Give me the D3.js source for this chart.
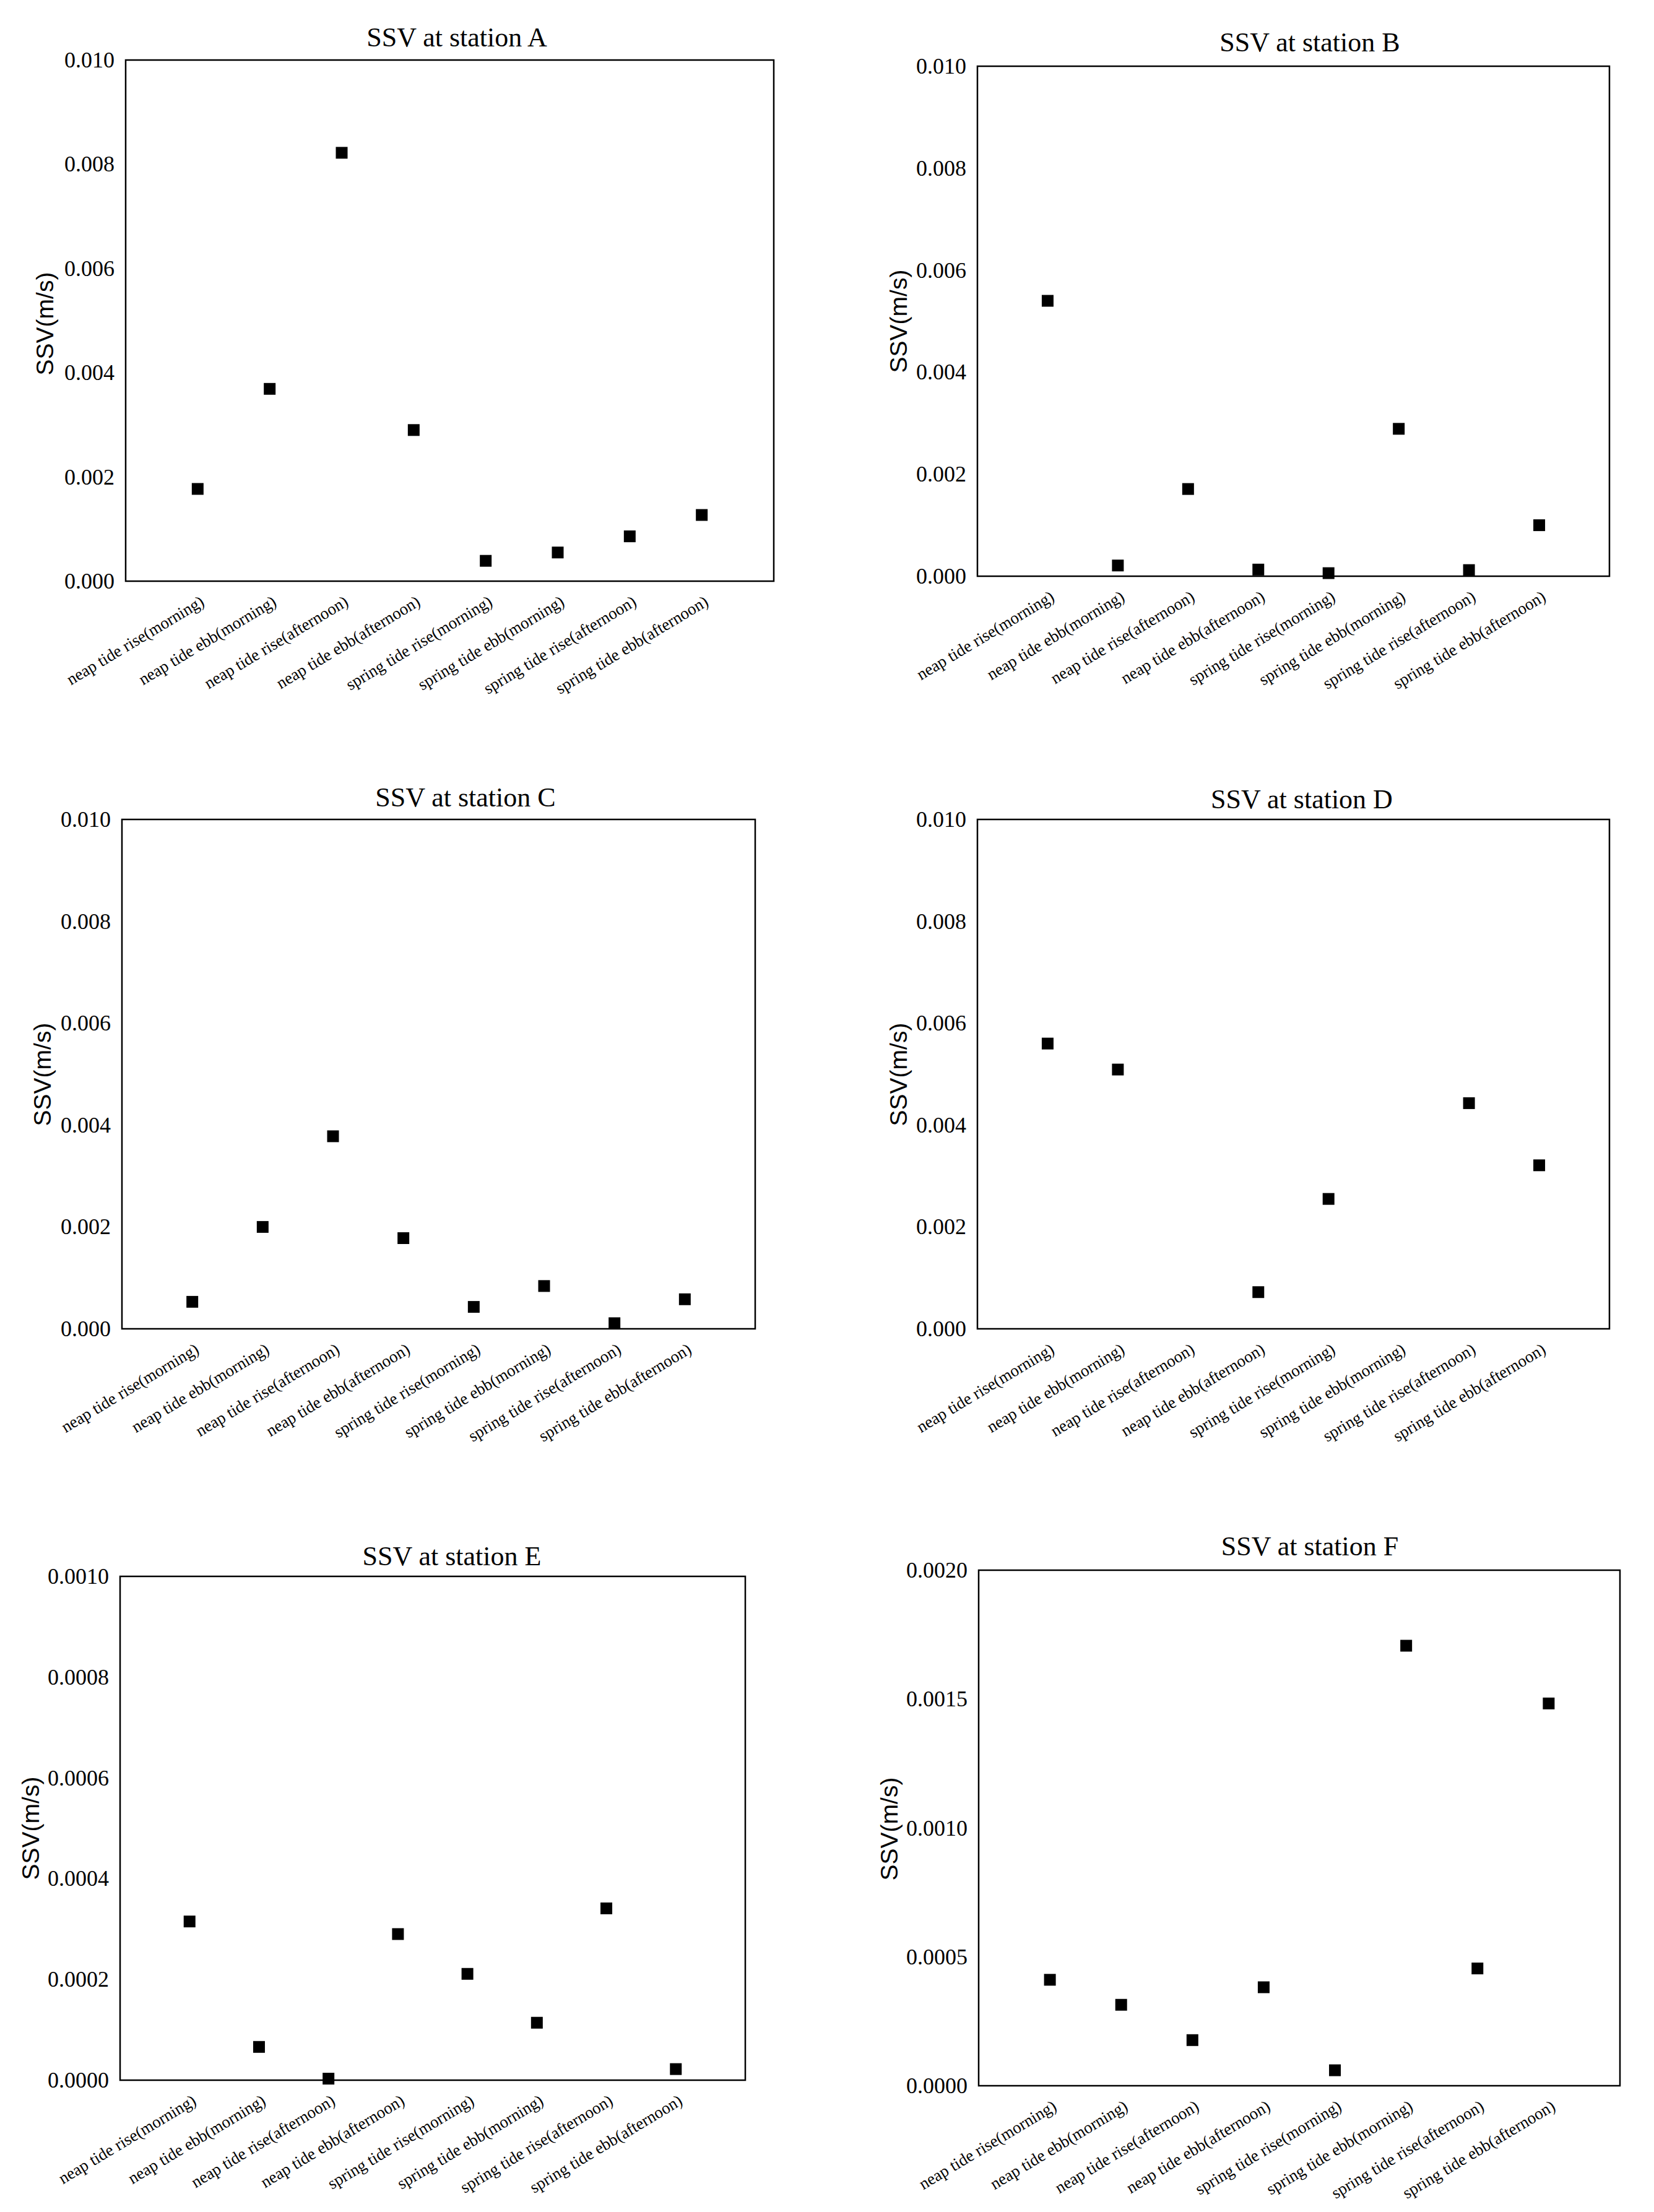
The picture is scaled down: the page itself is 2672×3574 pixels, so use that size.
<!DOCTYPE html>
<html lang="en">
    <head>
        <meta charset="utf-8" />
        <title>SSV at stations A-F</title>
        <script src="https://d3js.org/d3.v7.min.js"></script>
        <style>
            html, body { margin:0; padding:0; background-color: #ffffff; }
            svg { display:block; }
            .serif text, text.serif { font-family: "Liberation Serif", "Times New Roman", serif; }
            text.sans { font-family: "Liberation Sans", Arial, sans-serif; }
        </style>
    </head>
    <body>
        <svg id="svg" width="2672" height="3574"></svg>
        <script>

            // categories on the x axis (same for every station)
            const categories = [
                "neap tide rise(morning)",
                "neap tide ebb(morning)",
                "neap tide rise(afternoon)",
                "neap tide ebb(afternoon)",
                "spring tide rise(morning)",
                "spring tide ebb(morning)",
                "spring tide rise(afternoon)",
                "spring tide ebb(afternoon)"
            ];

            // SSV (m/s), null = no point drawn
            const stationA = [0.00177, 0.00369, 0.00822, 0.00290, 0.00039, 0.00055, 0.00086, 0.00127];
            const stationB = [0.00540, 0.00021, 0.00171, 0.00013, 0.00006, 0.00289, 0.00012, 0.00100];
            const stationC = [0.00053, 0.00200, 0.00378, 0.00178, 0.00043, 0.00084, 0.00011, 0.00058];
            const stationD = [0.00560, 0.00509, null, 0.00072, 0.00255, null, 0.00443, 0.00321];
            const stationE = [0.000315, 0.000066, 0.000003, 0.000290, 0.000211, 0.000114, 0.000341, 0.000022];
            const stationF = [0.000411, 0.000314, 0.000177, 0.000382, 0.000060, 0.001707, 0.000455, 0.001483];

            // y tick labels
            const ticksAD = [0, 0.002, 0.004, 0.006, 0.008, 0.010];
            const ticksE = [0, 0.0002, 0.0004, 0.0006, 0.0008, 0.0010];
            const ticksF = [0, 0.0005, 0.0010, 0.0015, 0.0020];

            const titles = ["SSV at station A", "SSV at station B", "SSV at station C",
                            "SSV at station D", "SSV at station E", "SSV at station F"];
            const yTitle = "SSV(m/s)";

            // panel placement on the page
            const layout = [
                {l: 203,  t: 97,   r: 1250, b: 939,  tx: 738,  ty: 75,   lx: 72,   ly: 523},
                {l: 1579, t: 107,  r: 2600, b: 931,  tx: 2116, ty: 83,   lx: 1451, ly: 519},
                {l: 197,  t: 1324, r: 1220, b: 2147, tx: 752,  ty: 1303, lx: 68,   ly: 1736},
                {l: 1579, t: 1324, r: 2600, b: 2147, tx: 2103, ty: 1306, lx: 1451, ly: 1736},
                {l: 194,  t: 2547, r: 1204, b: 3361, tx: 730,  ty: 2529, lx: 49,   ly: 2954},
                {l: 1581, t: 2537, r: 2617, b: 3370, tx: 2116, ty: 2513, lx: 1436, ly: 2955}
            ];

            const series = [stationA, stationB, stationC, stationD, stationE, stationF];
            const tickSets = [ticksAD, ticksAD, ticksAD, ticksAD, ticksE, ticksF];
            const formats = [".3f", ".3f", ".3f", ".3f", ".4f", ".4f"];

            const serif = "Liberation Serif";
            const markSize = 19;

            let svg = d3.select("svg");
            svg.append("rect")
                .attr("width", 2672)
                .attr("height", 3574)
                .attr("fill", "#ffffff");

            function drawPanel(i) {
                let p = layout[i];
                let w = p.r - p.l;
                let h = p.b - p.t;
                let ticks = tickSets[i];

                let x = d3.scalePoint()
                    .domain(categories)
                    .range([0, w])
                    .padding(1);

                let y = d3.scaleLinear()
                    .domain([0, ticks[ticks.length - 1]])
                    .range([h, 0]);

                let g = svg.append("g")
                    .attr("transform", "translate(" + p.l + "," + p.t + ")");

                // y axis, labels only
                let yAxis = g.append("g")
                    .call(d3.axisLeft(y)
                        .tickValues(ticks)
                        .tickFormat(d3.format(formats[i]))
                        .tickSize(0)
                        .tickPadding(18))
                    .attr("class", "serif")
                    .attr("font-family", serif)
                    .attr("font-size", 36);
                yAxis.select(".domain").remove();
                yAxis.selectAll("text")
                    .style("font-family", serif)
                    .attr("fill", "#000");

                // x axis, rotated labels
                let xAxis = g.append("g")
                    .attr("transform", "translate(0," + h + ")")
                    .call(d3.axisBottom(x).tickSize(0))
                    .attr("class", "serif")
                    .attr("font-family", serif)
                    .attr("font-size", 27);
                xAxis.select(".domain").remove();
                xAxis.selectAll("text")
                    .attr("x", 0)
                    .attr("y", 0)
                    .attr("dy", 0)
                    .attr("text-anchor", "end")
                    .attr("transform", "translate(12,38) rotate(-31)")
                    .style("font-family", serif)
                    .attr("fill", "#000");

                // plot frame
                g.append("rect")
                    .attr("width", w)
                    .attr("height", h)
                    .attr("fill", "none")
                    .attr("stroke", "#000")
                    .attr("stroke-width", 2.5);

                // square markers
                let pts = categories.map((c, k) => ({cat: c, val: series[i][k]}))
                    .filter(d => d.val !== null);

                g.selectAll(".pt")
                    .data(pts)
                    .join("rect")
                    .attr("class", "pt")
                    .attr("x", d => x(d.cat) - markSize / 2)
                    .attr("y", d => y(d.val) - markSize / 2)
                    .attr("width", markSize)
                    .attr("height", markSize)
                    .attr("fill", "#000");

                // title
                svg.append("text")
                    .attr("class", "serif")
                    .attr("x", p.tx)
                    .attr("y", p.ty)
                    .attr("text-anchor", "middle")
                    .attr("font-size", 44)
                    .attr("fill", "#000")
                    .text(titles[i]);

                // y axis title
                svg.append("text")
                    .attr("class", "sans")
                    .attr("transform", "translate(" + p.lx + "," + p.ly + ") rotate(-90)")
                    .attr("text-anchor", "middle")
                    .attr("dy", "0.35em")
                    .attr("font-size", 39)
                    .attr("fill", "#000")
                    .text(yTitle);
            }

            for (let i = 0; i < layout.length; i++) {
                drawPanel(i);
            }

        </script>
    </body>
</html>
